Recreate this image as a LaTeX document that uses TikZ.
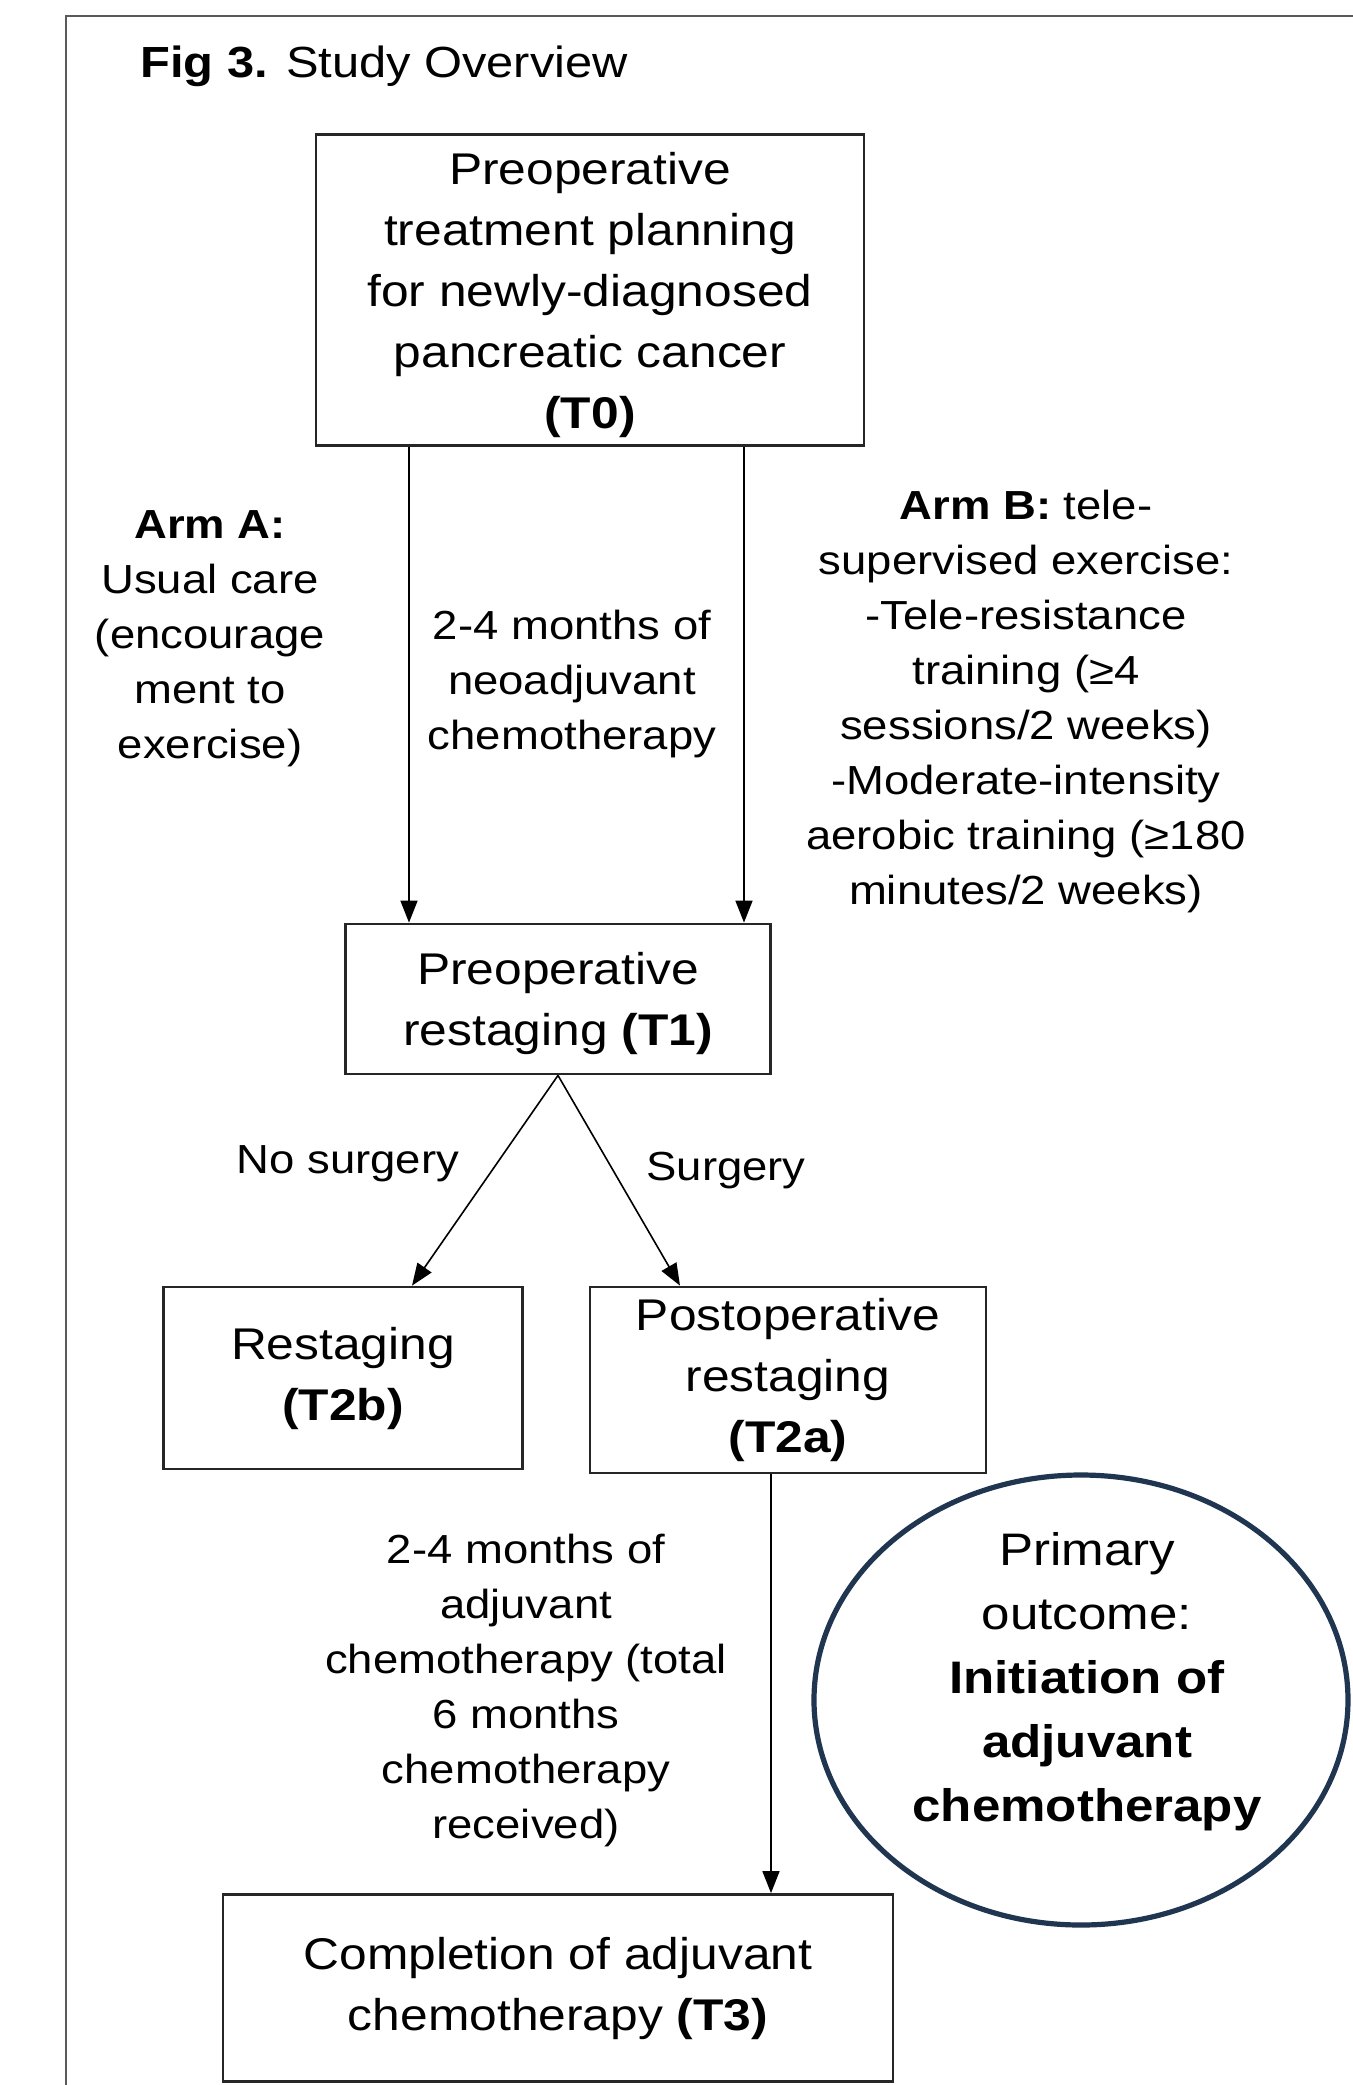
\documentclass[tikz,border=0pt]{standalone}
\usepackage{fontspec}
\setmainfont[FakeStretch=1.12]{Liberation Sans}
\usetikzlibrary{arrows.meta,shapes.geometric}
\definecolor{outcomeblue}{HTML}{1F3550}
\definecolor{framegray}{HTML}{5A5A5A}
\tikzset{
  stagebox/.style={draw=black!85, line width=1.4pt, inner sep=0pt, align=center, font=\fontsize{22.2}{30.5}\selectfont},
  armtext/.style={align=center, inner sep=0pt, font=\fontsize{20.3}{27.5}\selectfont},
  flow/.style={line width=0.8pt, -{Triangle[length=11pt,width=8.5pt]}},
}
\begin{document}
\begin{tikzpicture}[x=0.5pt,y=0.5pt,yscale=-1,xscale=1]
    \useasboundingbox (0,0) rectangle (1353,2085);
    % frame
    \draw[framegray, line width=1pt] (66,2085) -- (66,16) -- (1353,16);
    % Title
    \node[anchor=west, inner sep=0pt, font=\fontsize{21.8}{26}\selectfont] (title) at (140,66) {\textbf{Fig 3.} Study Overview};
    % Stage boxes
    \node[stagebox, minimum width=274pt, minimum height=155.5pt] (t0) at (590,290) {};
    \node[align=center, inner sep=0pt, font=\fontsize{22.2}{30.5}\selectfont] (t0text) at (590,295) {Preoperative\\treatment planning\\for newly-diagnosed\\pancreatic cancer\\\textbf{(T0)}};
    \node[stagebox, minimum width=212.5pt, minimum height=75pt, text depth=0pt] (t1) at (558,999) {Preoperative\\restaging \textbf{(T1)}};
    \node[stagebox, minimum width=179.5pt, minimum height=91pt] (t2b) at (343,1378) {Restaging\\\textbf{(T2b)}};
    \node[stagebox, minimum width=198pt, minimum height=93pt] (t2a) at (788,1380) {Postoperative\\restaging\\\textbf{(T2a)}};
    \node[stagebox, minimum width=335pt, minimum height=93.5pt] (t3) at (558,1988) {Completion of adjuvant\\chemotherapy \textbf{(T3)}};
    % Primary outcome
    \node[ellipse, draw=outcomeblue, line width=2.6pt, minimum width=267pt, minimum height=225pt] (outcome) at (1081,1700) {};
    \node[align=center, inner sep=0pt, font=\fontsize{22.8}{32}\selectfont] (outcometext) at (1087,1682) {Primary\\outcome:\\\textbf{Initiation of}\\\textbf{adjuvant}\\\textbf{chemotherapy}};
    % Text nodes
    \node[armtext] (armA) at (210,639) {\textbf{Arm A:}\\Usual care\\(encourage\\ment to\\exercise)};
    \node[armtext] (neo) at (572,684) {2-4 months of\\neoadjuvant\\chemotherapy};
    \node[armtext] (armB) at (1026,701) {\textbf{Arm B:} tele-\\supervised exercise:\\-Tele-resistance\\training (≥4\\sessions/2 weeks)\\-Moderate-intensity\\aerobic training (≥180\\minutes/2 weeks)};
    \node[armtext] (nosurg) at (348,1164) {No surgery};
    \node[armtext] (surg) at (726,1171) {Surgery};
    \node[armtext] (adj) at (526,1690) {2-4 months of\\adjuvant\\chemotherapy (total\\6 months\\chemotherapy\\received)};
    % Arrows
    \draw[flow] (t0.south -| 409,0) -- (t1.north -| 409,0);
    \draw[flow] (t0.south -| 744,0) -- (t1.north -| 744,0);
    \draw[flow] (t1.south) -- (t2b.north -| 412,0);
    \draw[flow] (t1.south) -- (t2a.north -| 680,0);
    \draw[flow] (t2a.south -| 771,0) -- (t3.north -| 771,0);
\end{tikzpicture}
\end{document}
